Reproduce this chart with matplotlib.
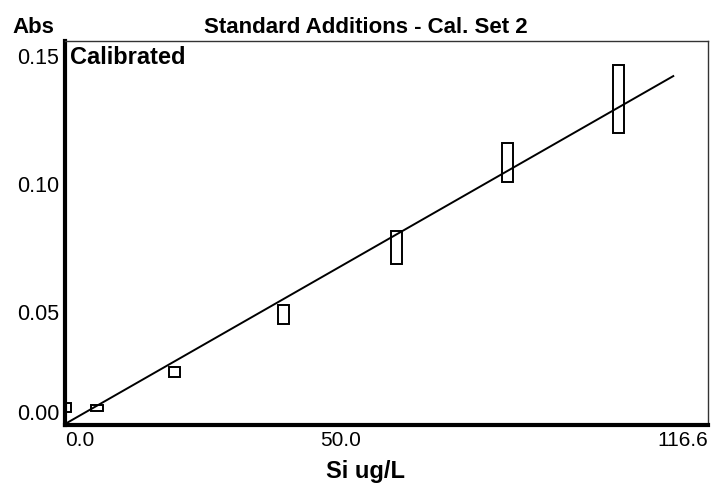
import matplotlib.pyplot as plt
from matplotlib.transforms import ScaledTranslation

# standard additions, silicon
conc = [0.0, 5.8, 19.8, 39.7, 60.1, 80.2, 100.4]
abs_low = [0.0051, 0.0055, 0.0188, 0.0395, 0.0629, 0.0949, 0.1141]
abs_high = [0.0086, 0.0078, 0.0227, 0.0469, 0.0758, 0.1102, 0.1406]

# calibration line
fit_x = [0.0, 110.3]
fit_y = [0.0004, 0.1363]

x_ticks = [0.0, 50.0, 116.6]
x_labels = ["0.0", "50.0", "116.6"]
y_ticks = [0.0, 0.05, 0.10, 0.15]
y_labels = ["0.00", "0.05", "0.10", "0.15"]

bold = {"family": ["Liberation Sans", "DejaVu Sans"], "weight": "bold"}
thin = ["Liberation Sans", "DejaVu Sans"]

fig = plt.figure(figsize=(7.13, 4.86), dpi=100)
ax = fig.add_axes([0.0912, 0.1255, 0.9018, 0.7901])

heights = [h - l for l, h in zip(abs_low, abs_high)]
ax.bar(conc, heights, bottom=abs_low, width=2.0, facecolor="none",
       edgecolor="black", linewidth=1.4, zorder=2)
ax.plot(fit_x, fit_y, color="black", linewidth=1.4, zorder=3)

ax.set_xlim(0, 116.6)
ax.set_ylim(0, 0.15)

ax.set_xticks(x_ticks)
ax.set_xticklabels(x_labels, family=thin, fontsize=15)
ax.set_yticks(y_ticks)
ax.set_yticklabels(y_labels, family=thin, fontsize=15.5)
ax.tick_params(length=0)
ax.tick_params(axis="x", pad=4)
ax.tick_params(axis="y", pad=4)

for lab, ha in zip(ax.get_xticklabels(), ["left", "center", "right"]):
    lab.set_ha(ha)
# y labels hang just below their value
shift = ScaledTranslation(0, -5 / 72, fig.dpi_scale_trans)
for lab, va in zip(ax.get_yticklabels(), ["bottom", "top", "top", "top"]):
    lab.set_va(va)
    if va == "top":
        lab.set_transform(lab.get_transform() + shift)

for side in ["left", "bottom"]:
    ax.spines[side].set_linewidth(3.0)
for side in ["top", "right"]:
    ax.spines[side].set_linewidth(1.0)
    ax.spines[side].set_color("#333333")

ax.text(0.008, 0.987, "Calibrated", transform=ax.transAxes, ha="left", va="top",
        fontsize=17, **bold)

ax.set_xlabel("Si ug/L", fontsize=17, **bold)
ax.xaxis.set_label_coords(0.467, -0.09)

fig.text(0.513, 0.944, "Standard Additions - Cal. Set 2", ha="center", va="center",
         fontsize=16, **bold)
fig.text(0.017, 0.944, "Abs", ha="left", va="center", fontsize=16, **bold)

fig.savefig("out.png", dpi=100)
